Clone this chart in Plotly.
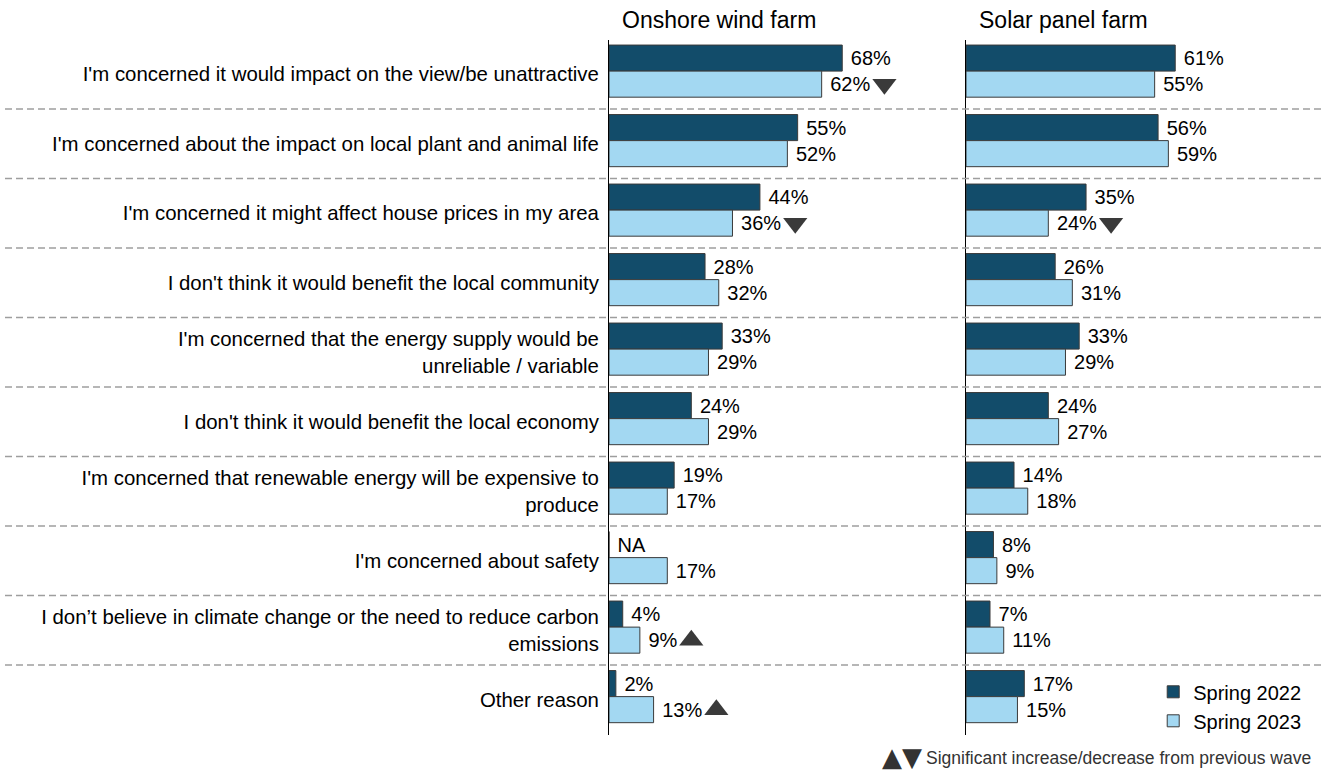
import plotly.graph_objects as go

categories = [
    "I'm concerned it would impact on the view/be unattractive",
    "I'm concerned about the impact on local plant and animal life",
    "I'm concerned it might affect house prices in my area",
    "I don't think it would benefit the local community",
    "I'm concerned that the energy supply would be<br>unreliable / variable",
    "I don't think it would benefit the local economy",
    "I'm concerned that renewable energy will be expensive to<br>produce",
    "I'm concerned about safety",
    "I don\u2019t believe in climate change or the need to reduce carbon<br>emissions",
    "Other reason",
]
wind_2022 = [68, 55, 44, 28, 33, 24, 19, None, 4, 2]
wind_2023 = [62, 52, 36, 32, 29, 29, 17, 17, 9, 13]
solar_2022 = [61, 56, 35, 26, 33, 24, 14, 8, 7, 17]
solar_2023 = [55, 59, 24, 31, 29, 27, 18, 9, 11, 15]
# significance of Spring 2023 vs previous wave
wind_sig = ["down", None, "down", None, None, None, None, None, "up", "up"]
solar_sig = [None, None, "down", None, None, None, None, None, None, None]

panel_titles = ["Onshore wind farm", "Solar panel farm"]
series_names = ["Spring 2022", "Spring 2023"]
note_text = "Significant increase/decrease from previous wave"

DARK = "#124c6a"
LIGHT = "#a3d8f2"
OUTLINE = "#3a3a3a"
FONT = "Liberation Sans, Arial, sans-serif"

rows = list(range(len(categories)))
W = 0.375
OFF_DARK = -0.42
OFF_LIGHT = -0.045

fig = go.Figure()


def labels(vals):
    return ["\u00a0NA" if v is None else f"\u00a0{v}%" for v in vals]


panels = [
    ("x", "y", wind_2022, wind_2023, wind_sig, True),
    ("x2", "y2", solar_2022, solar_2023, solar_sig, False),
]
for xa, ya, v22, v23, sig, show in panels:
    for vals, off, col, name in [(v22, OFF_DARK, DARK, series_names[0]),
                                 (v23, OFF_LIGHT, LIGHT, series_names[1])]:
        fig.add_trace(go.Bar(
            y=rows, x=[0 if v is None else v for v in vals], orientation="h",
            width=W, offset=off, name=name, legendgroup=name, showlegend=show,
            marker=dict(color=col, line=dict(color=OUTLINE, width=1)),
            text=labels(vals), textposition="outside", constraintext="none",
            textangle=0, cliponaxis=False,
            textfont=dict(size=20, color="#000000", family=FONT),
            xaxis=xa, yaxis=ya, hoverinfo="skip",
        ))
    # significance triangles after the Spring 2023 labels
    for kind, sym in [("down", "triangle-down"), ("up", "triangle-up")]:
        idx = [i for i, s in enumerate(sig) if s == kind]
        if not idx:
            continue
        xs = [v23[i] + (18.3 if v23[i] >= 10 else 15.0) for i in idx]
        ys = [i + OFF_LIGHT + W / 2 for i in idx]
        fig.add_trace(go.Scatter(
            x=xs, y=ys, mode="markers", showlegend=False, hoverinfo="skip",
            marker=dict(symbol=sym, size=21, color="#3a3a3a"),
            xaxis=xa, yaxis=ya, cliponaxis=False,
        ))

top_px, bot_px = 39.5, 734.5
H, Wd = 771, 1324
ydom = [1 - bot_px / H, 1 - top_px / H]
px_per_unit = 3.43
wind_x0, solar_x0 = 609, 966

fig.update_layout(
    width=Wd, height=H, margin=dict(l=0, r=0, t=0, b=0),
    paper_bgcolor="white", plot_bgcolor="white",
    barmode="overlay",
    font=dict(family=FONT, color="#000000", size=20),
    xaxis=dict(domain=[wind_x0 / Wd, (wind_x0 + 100 * px_per_unit) / Wd], range=[0, 100],
               visible=False, fixedrange=True),
    xaxis2=dict(domain=[solar_x0 / Wd, (solar_x0 + 100 * px_per_unit) / Wd], range=[0, 100],
                visible=False, fixedrange=True),
    yaxis=dict(domain=ydom, range=[len(rows) - 0.5, -0.5], anchor="x",
               tickvals=rows, ticktext=categories, ticks="outside", ticklen=5,
               tickcolor="rgba(0,0,0,0)", showgrid=False, zeroline=False,
               showline=True, linecolor="#000000", linewidth=1, fixedrange=True,
               tickfont=dict(size=20.4, color="#000000", family=FONT)),
    yaxis2=dict(domain=ydom, range=[len(rows) - 0.5, -0.5], anchor="x2",
                showticklabels=False, showgrid=False, zeroline=False, fixedrange=True,
                showline=True, linecolor="#000000", linewidth=1),
    legend=dict(x=0.871, y=0.128, xanchor="left", yanchor="top",
                font=dict(size=20, family=FONT, color="#000000"),
                bgcolor="rgba(0,0,0,0)", traceorder="normal"),
)

# dashed separators between rows
for i in rows[:-1]:
    fig.add_shape(type="line", xref="paper", yref="y", x0=5 / Wd, x1=1.0,
                  y0=i + 0.5, y1=i + 0.5,
                  line=dict(color="#9e9e9e", width=1.5, dash="7px,4px"))

# panel titles
for title, x0 in zip(panel_titles, [wind_x0, solar_x0]):
    fig.add_annotation(text=title, xref="paper", yref="paper",
                       x=(x0 + 11) / Wd, y=1 - 20 / H, xanchor="left", yanchor="middle",
                       showarrow=False, font=dict(size=23, family=FONT, color="#000000"))

# significance note
fig.add_annotation(
    text=note_text, xref="paper", yref="paper", x=1313 / Wd, y=1 - 758 / H,
    xanchor="right", yanchor="middle", showarrow=False,
    font=dict(size=17.5, family=FONT, color="#333333"))
fig.add_annotation(
    text="\u25B2\u25BC", xref="paper", yref="paper", x=924 / Wd, y=1 - 757 / H,
    xanchor="right", yanchor="middle", showarrow=False,
    font=dict(size=26, family="DejaVu Sans", color="#333333"))

fig.write_html("out.html", config={"displayModeBar": False},
               post_script="document.body.style.margin='0px';")
